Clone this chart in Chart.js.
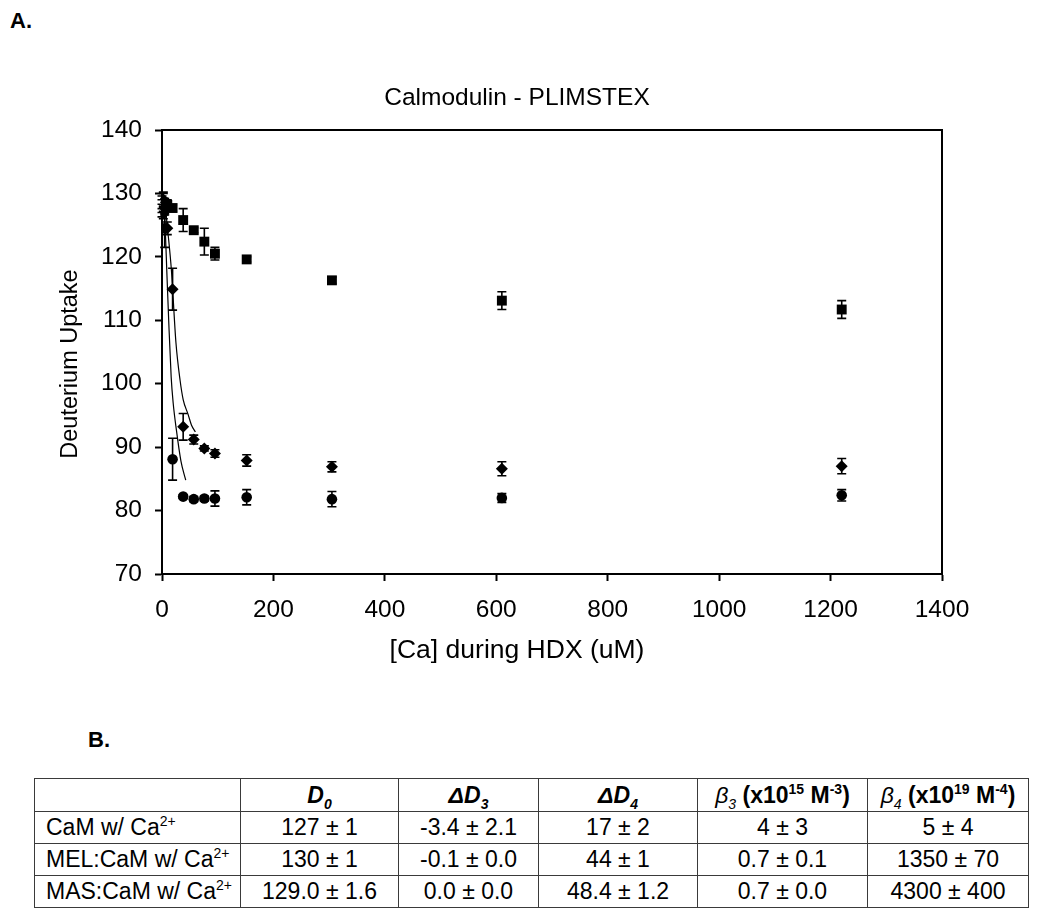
<!DOCTYPE html>
<html>
<head>
<meta charset="utf-8">
<script src="https://cdn.jsdelivr.net/npm/chart.js@4.4.1/dist/chart.umd.min.js"></script>
<style>
  html, body { margin: 0; padding: 0; background: #fff; }
  body { width: 1050px; height: 914px; position: relative; overflow: hidden; font-family: "Liberation Sans", Arial, sans-serif; }
  #wrap { position: absolute; left: 0; top: 0; width: 1050px; height: 700px; }
  .lbl { position: absolute; font-weight: bold; font-size: 22px; color: #000; }
  table { position: absolute; left: 34px; top: 778px; border-collapse: collapse; font-size: 23px; color: #000; table-layout: fixed; }
  td { border: 1.5px solid #3a3a3a; text-align: center; padding: 0; height: 31px; line-height: 31px; white-space: nowrap; }
  td.rowh { text-align: left; padding-left: 11px; }
  sup, sub { font-size: 14px; line-height: 0; }
  .bi { font-weight: bold; font-style: italic; }
  .b { font-weight: bold; }
  .i { font-style: italic; }
</style>
</head>
<body>
<div class="lbl" style="left:10px; top:8px;">A.</div>
<div class="lbl" style="left:88px; top:727px;">B.</div>
<div id="wrap"><canvas id="c" width="1050" height="700"></canvas></div>

<table>
  <colgroup>
    <col style="width:206px"><col style="width:158px"><col style="width:140px"><col style="width:159px"><col style="width:170px"><col style="width:161px">
  </colgroup>
  <tr style="height:33px">
    <td></td>
    <td><span class="bi">D<sub>0</sub></span></td>
    <td><span class="bi">&Delta;D<sub>3</sub></span></td>
    <td><span class="bi">&Delta;D<sub>4</sub></span></td>
    <td><span class="i">&beta;<sub>3</sub></span> <span class="b">(x10<sup>15</sup> M<sup>-3</sup>)</span></td>
    <td><span class="i">&beta;<sub>4</sub></span> <span class="b">(x10<sup>19</sup> M<sup>-4</sup>)</span></td>
  </tr>
  <tr><td class="rowh">CaM w/ Ca<sup>2+</sup></td><td>127 ± 1</td><td>-3.4 ± 2.1</td><td>17 ± 2</td><td>4 ± 3</td><td>5 ± 4</td></tr>
  <tr><td class="rowh">MEL:CaM w/ Ca<sup>2+</sup></td><td>130 ± 1</td><td>-0.1 ± 0.0</td><td>44 ± 1</td><td>0.7 ± 0.1</td><td>1350 ± 70</td></tr>
  <tr><td class="rowh">MAS:CaM w/ Ca<sup>2+</sup></td><td>129.0 ± 1.6</td><td>0.0 ± 0.0</td><td>48.4 ± 1.2</td><td>0.7 ± 0.0</td><td>4300 ± 400</td></tr>
</table>

<script>
// ---- Data ----
const caConc      = [0, 2.4, 4.8, 9.5, 19, 38, 57, 76, 95, 152, 305, 610, 1220];
const camUptake   = [127.3, 128.6, 128.0, 128.2, 127.7, 125.8, 124.2, 122.4, 120.5, 119.6, 116.3, 113.1, 111.7];
const camErr      = [1.0, 1.4, 1.2, 0.8, 0.5, 1.8, 0.4, 2.1, 1.0, 0.4, 0.5, 1.4, 1.4];

const melUptake   = [128.6, 129.0, 127.6, 124.5, 114.9, 93.2, 91.2, 89.8, 89.0, 87.9, 86.9, 86.6, 87.0];
const melErr      = [1.0, 1.2, 1.0, 1.0, 3.3, 2.1, 0.7, 0.4, 0.6, 0.9, 0.8, 1.1, 1.2];

const caConcMas   = [0, 2.4, 4.8, 19, 38, 57, 76, 95, 152, 305, 610, 1220];
const masUptake   = [128.0, 127.0, 124.5, 88.1, 82.2, 81.8, 81.9, 81.9, 82.1, 81.8, 82.0, 82.4];
const masErr      = [1.0, 1.0, 3.0, 3.3, 0.3, 0.4, 0.4, 1.2, 1.2, 1.2, 0.7, 0.9];

const melFitX = [0, 6, 10.8, 16.9, 19, 25, 32.5, 38, 46.7, 52.8, 60];
const melFitY = [128.5, 127.5, 123.7, 117.9, 115.0, 106.5, 100.5, 97.5, 95.2, 93.5, 92.4];
const masFitX = [0, 4, 6, 8.5, 12, 16.5, 20, 26, 34, 42.6];
const masFitY = [128.5, 127.0, 124.0, 118.0, 110.0, 101.0, 97.0, 92.6, 87.8, 84.8];

const xTicks = [0, 200, 400, 600, 800, 1000, 1200, 1400];
const yTicks = [70, 80, 90, 100, 110, 120, 130, 140];

const chartTitle = 'Calmodulin - PLIMSTEX';
const xTitle = '[Ca] during HDX (uM)';
const yTitle = 'Deuterium Uptake';

// ---- build ----
const pts = (xs, ys) => xs.map((x, i) => ({ x: x, y: ys[i] }));
const FONT = '"Liberation Sans", Arial, sans-serif';

const errorBars = {
  id: 'errorBars',
  afterDatasetsDraw(chart) {
    const { ctx, scales: { x, y } } = chart;
    ctx.save();
    ctx.strokeStyle = '#000';
    ctx.lineWidth = 1.6;
    chart.data.datasets.forEach((ds) => {
      if (!ds.errors) return;
      ds.data.forEach((p, i) => {
        const e = ds.errors[i];
        if (!e) return;
        const px = x.getPixelForValue(p.x);
        const top = y.getPixelForValue(p.y + e);
        const bot = y.getPixelForValue(p.y - e);
        ctx.beginPath();
        ctx.moveTo(px, top); ctx.lineTo(px, bot);
        ctx.moveTo(px - 4.5, top); ctx.lineTo(px + 4.5, top);
        ctx.moveTo(px - 4.5, bot); ctx.lineTo(px + 4.5, bot);
        ctx.stroke();
      });
    });
    ctx.restore();
  }
};

const frameAndText = {
  id: 'frameAndText',
  afterDraw(chart) {
    const { ctx, chartArea: a } = chart;
    ctx.save();
    ctx.strokeStyle = '#000';
    ctx.lineWidth = 2;
    ctx.beginPath();
    ctx.moveTo(a.left, a.top); ctx.lineTo(a.right, a.top); ctx.lineTo(a.right, a.bottom);
    ctx.stroke();
    ctx.fillStyle = '#000';
    ctx.textAlign = 'center';
    ctx.textBaseline = 'middle';
    ctx.font = '24.5px ' + FONT;
    ctx.fillText(chartTitle, 517, 98);
    ctx.font = '26.5px ' + FONT;
    ctx.fillText(xTitle, 517, 651);
    ctx.font = '23.5px ' + FONT;
    ctx.translate(71, 364);
    ctx.rotate(-Math.PI / 2);
    ctx.fillText(yTitle, 0, 0);
    ctx.restore();
  }
};

new Chart(document.getElementById('c'), {
  type: 'scatter',
  data: {
    datasets: [
      { label: 'MEL fit', type: 'line', data: pts(melFitX, melFitY), borderColor: '#000', borderWidth: 1.2,
        pointRadius: 0, fill: false, cubicInterpolationMode: 'monotone', order: 5 },
      { label: 'MAS fit', type: 'line', data: pts(masFitX, masFitY), borderColor: '#000', borderWidth: 1.2,
        pointRadius: 0, fill: false, cubicInterpolationMode: 'monotone', order: 5 },
      { label: 'CaM w/ Ca2+', data: pts(caConc, camUptake), errors: camErr, pointStyle: 'rect', pointRadius: 7,
        backgroundColor: '#000', borderColor: '#000', borderWidth: 0 },
      { label: 'MEL:CaM w/ Ca2+', data: pts(caConc, melUptake), errors: melErr, pointStyle: 'rectRot', pointRadius: 6,
        backgroundColor: '#000', borderColor: '#000', borderWidth: 0 },
      { label: 'MAS:CaM w/ Ca2+', data: pts(caConcMas, masUptake), errors: masErr, pointStyle: 'circle', pointRadius: 5.3,
        backgroundColor: '#000', borderColor: '#000', borderWidth: 0 }
    ]
  },
  options: {
    responsive: false,
    animation: false,
    events: [],
    layout: { padding: { top: 130, right: 108, left: 0, bottom: 0 } },
    plugins: { legend: { display: false }, tooltip: { enabled: false }, title: { display: false } },
    scales: {
      x: {
        type: 'linear', min: 0, max: 1400,
        afterBuildTicks: (s) => { s.ticks = xTicks.map(v => ({ value: v })); },
        afterFit: (s) => { s.height = 126; },
        grid: { display: true, drawOnChartArea: false, drawTicks: true, tickLength: 7, tickWidth: 2, tickColor: '#000' },
        border: { display: true, color: '#000', width: 2 },
        ticks: { color: '#000', font: { family: FONT, size: 24.5 }, padding: 15, maxRotation: 0,
                 callback: (v) => String(v) }
      },
      y: {
        type: 'linear', min: 70, max: 140,
        afterBuildTicks: (s) => { s.ticks = yTicks.map(v => ({ value: v })); },
        afterFit: (s) => { s.width = 162; },
        grid: { display: true, drawOnChartArea: false, drawTicks: true, tickLength: 7, tickWidth: 2, tickColor: '#000' },
        border: { display: true, color: '#000', width: 2 },
        ticks: { color: '#000', font: { family: FONT, size: 24.5 }, padding: 13, callback: (v) => String(v) }
      }
    }
  },
  plugins: [errorBars, frameAndText]
});
</script>
</body>
</html>
